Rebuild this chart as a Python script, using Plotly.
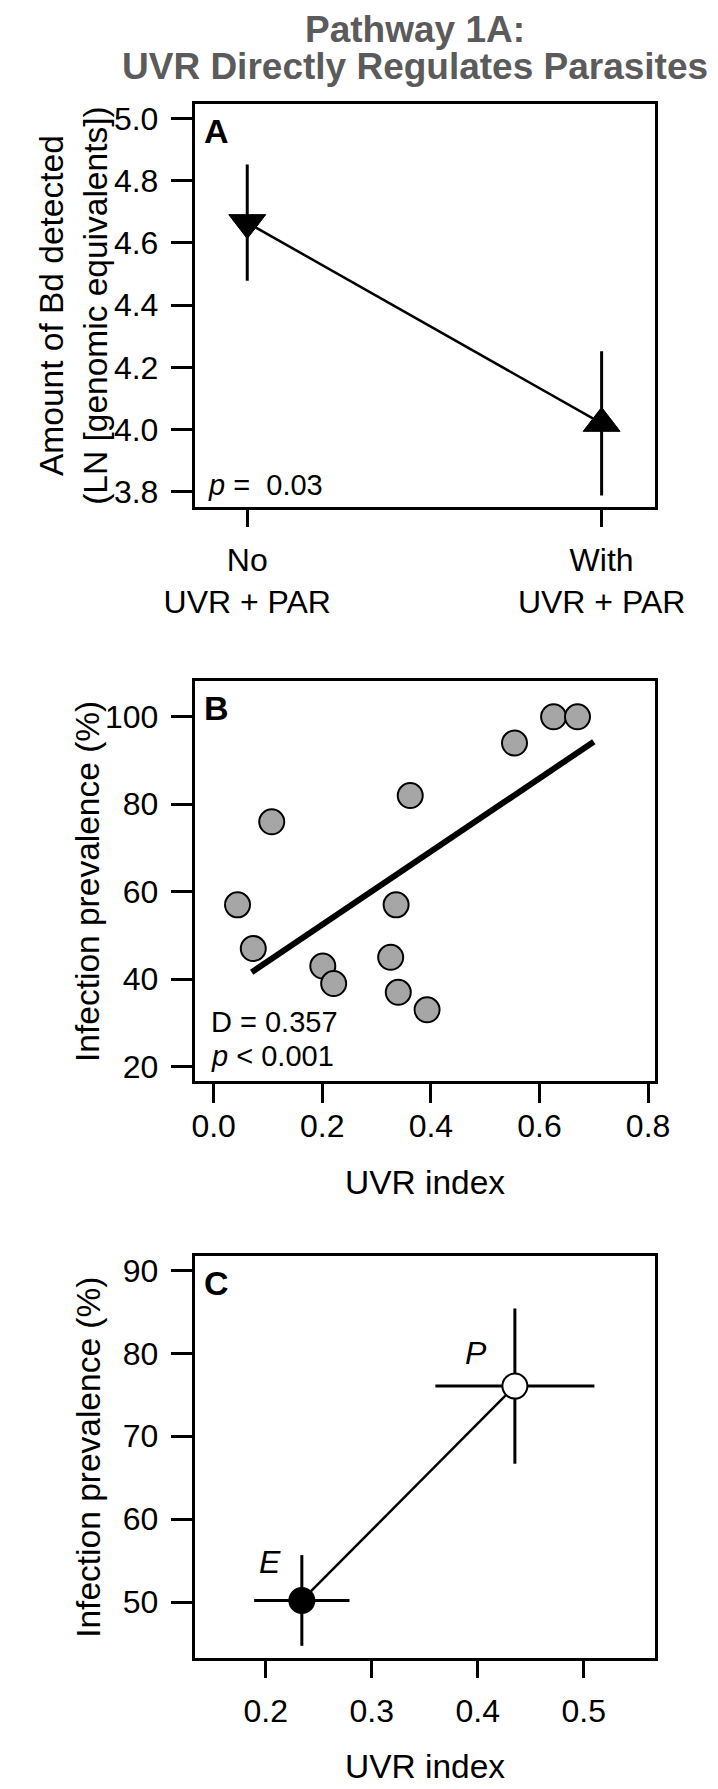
import plotly.graph_objects as go

# ---------------- data ----------------
# Panel A
treatments = ["No<br>UVR + PAR", "With<br>UVR + PAR"]
treatment_pos = [1, 2]
bd_mean = [4.665, 4.02]
bd_err = [0.187, 0.232]
bd_symbols = ["triangle-down", "triangle-up"]

# Panel B
uvr_index_b = [0.044, 0.073, 0.107, 0.201, 0.221, 0.326, 0.336, 0.340, 0.362, 0.393, 0.554, 0.626, 0.670]
prevalence_b = [57, 47, 76, 43, 39, 45, 57, 37, 82, 33, 94, 100, 100]
fit_x = [0.07, 0.70]
fit_y = [41.6, 94.3]

# Panel C
groups_c = ["E", "P"]
uvr_mean_c = [0.234, 0.435]
uvr_err_c = [0.045, 0.075]
prev_mean_c = [50.2, 76.05]
prev_err_c = [5.47, 9.36]
fill_c = ["black", "white"]

# ---------------- style ----------------
FONT = "Liberation Sans, Arial, Helvetica, sans-serif"
TICK = 32
TITLE = 33.5
STAT = 29
W, H = 718, 1789

fig = go.Figure()

# Panel A
fig.add_trace(go.Scatter(x=treatment_pos, y=bd_mean, mode="lines",
                         line=dict(color="black", width=2.5),
                         xaxis="x", yaxis="y", hoverinfo="skip"))
fig.add_trace(go.Scatter(x=treatment_pos, y=bd_mean, mode="markers",
                         marker=dict(symbol=bd_symbols, size=32, color="black",
                                     line=dict(color="black", width=1)),
                         error_y=dict(type="data", array=bd_err, width=0,
                                      thickness=3, color="black"),
                         xaxis="x", yaxis="y"))

# Panel B
fig.add_trace(go.Scatter(x=fit_x, y=fit_y, mode="lines",
                         line=dict(color="black", width=6),
                         xaxis="x2", yaxis="y2", hoverinfo="skip"))
fig.add_trace(go.Scatter(x=uvr_index_b, y=prevalence_b, mode="markers",
                         marker=dict(symbol="circle", size=25, color="#a6a6a6",
                                     line=dict(color="black", width=2)),
                         xaxis="x2", yaxis="y2"))

# Panel C
fig.add_trace(go.Scatter(x=uvr_mean_c, y=prev_mean_c, mode="lines",
                         line=dict(color="black", width=2.5),
                         xaxis="x3", yaxis="y3", hoverinfo="skip"))
fig.add_trace(go.Scatter(x=uvr_mean_c, y=prev_mean_c, mode="markers",
                         marker=dict(symbol="circle", size=25, color=fill_c,
                                     line=dict(color="black", width=2)),
                         error_x=dict(type="data", array=uvr_err_c, width=0,
                                      thickness=3, color="black"),
                         error_y=dict(type="data", array=prev_err_c, width=0,
                                      thickness=3, color="black"),
                         xaxis="x3", yaxis="y3"))

xdom = [179 / W, 681.7 / W]
def ydom(top, bottom):
    return [1 - bottom / H, 1 - top / H]

common = dict(showline=True, linecolor="black", linewidth=3, mirror=True,
              ticks="outside", tickwidth=3, tickcolor="black",
              showgrid=False, zeroline=False,
              tickfont=dict(family=FONT, size=TICK, color="black"))

fig.update_layout(
    width=W, height=H,
    margin=dict(l=0, r=0, t=0, b=0),
    paper_bgcolor="white", plot_bgcolor="white",
    showlegend=False,
    font=dict(family=FONT, color="black"),
    xaxis=dict(domain=xdom, range=[0.852, 2.150], tickvals=treatment_pos,
               ticktext=treatments, ticklen=17, ticklabelstandoff=6,
               anchor="y", **common),
    yaxis=dict(domain=ydom(101.5, 505.7), range=[3.752, 5.046], dtick=0.2,
               tick0=3.8, tickformat=".1f", ticklen=21, ticklabelstandoff=6,
               anchor="x", **common),
    xaxis2=dict(domain=xdom, range=[-0.0347, 0.8123], dtick=0.2, tick0=0,
                tickformat=".1f", ticklen=19, ticklabelstandoff=-4,
                anchor="y2", **common),
    yaxis2=dict(domain=ydom(680.4, 1082), range=[16.77, 108.25], dtick=20,
                tick0=20, ticklen=21, ticklabelstandoff=6, anchor="x2", **common),
    xaxis3=dict(domain=xdom, range=[0.133, 0.567], dtick=0.1, tick0=0.2,
                tickformat=".1f", ticklen=17, ticklabelstandoff=6,
                anchor="y3", **common),
    yaxis3=dict(domain=ydom(1257.9, 1661.6), range=[43.25, 91.74], dtick=10,
                tick0=50, ticklen=21, ticklabelstandoff=6, anchor="x3", **common),
)

ann = []
# Main title
ann.append(dict(text="<b>Pathway 1A:</b>", x=420 / W, y=1 - 27 / H, xref="paper", yref="paper",
                xanchor="center", yanchor="middle", showarrow=False,
                font=dict(family=FONT, size=37, color="#5b5b5b")))
ann.append(dict(text="<b>UVR Directly Regulates Parasites</b>", x=420 / W, y=1 - 64 / H,
                xref="paper", yref="paper", xanchor="center", yanchor="middle",
                showarrow=False, font=dict(family=FONT, size=37, color="#5b5b5b")))

# Panel letters
for ref, letter in [("", "A"), ("2", "B"), ("3", "C")]:
    ann.append(dict(text="<b>%s</b>" % letter, x=0.015, y=0.985,
                    xref="x%s domain" % ref, yref="y%s domain" % ref,
                    xanchor="left", yanchor="top", showarrow=False,
                    font=dict(family=FONT, size=34, color="black")))

# Stats text
ann.append(dict(text="<i>p</i> =\u00a0 0.03", x=0.025, y=0.053, xref="x domain", yref="y domain",
                xanchor="left", yanchor="middle", showarrow=False,
                font=dict(family=FONT, size=STAT, color="black")))
ann.append(dict(text="D = 0.357", x=0.03, y=0.147, xref="x2 domain", yref="y2 domain",
                xanchor="left", yanchor="middle", showarrow=False,
                font=dict(family=FONT, size=STAT, color="black")))
ann.append(dict(text="<i>p</i> < 0.001", x=0.03, y=0.062, xref="x2 domain", yref="y2 domain",
                xanchor="left", yanchor="middle", showarrow=False,
                font=dict(family=FONT, size=STAT, color="black")))

# E / P labels in panel C
shifts = {"E": (-32, 38), "P": (-39, 33)}
for g, xv, yv in zip(groups_c, uvr_mean_c, prev_mean_c):
    ann.append(dict(text="<i>%s</i>" % g, x=xv, y=yv, xref="x3", yref="y3",
                    xshift=shifts[g][0], yshift=shifts[g][1], showarrow=False,
                    xanchor="center", yanchor="middle",
                    font=dict(family=FONT, size=TICK, color="black")))

# Axis titles
ann.append(dict(text="Amount of Bd detected<br>(LN [genomic equivalents])",
                x=47 / W, y=1 - 304 / H, xref="paper", yref="paper",
                textangle=-90, xanchor="center", yanchor="middle", showarrow=False,
                font=dict(family=FONT, size=TITLE, color="black")))
ann.append(dict(text="Infection prevalence (%)", x=62 / W, y=1 - 881.7 / H,
                xref="paper", yref="paper", textangle=-90, xanchor="center",
                yanchor="middle", showarrow=False,
                font=dict(family=FONT, size=TITLE, color="black")))
ann.append(dict(text="Infection prevalence (%)", x=62 / W, y=1 - 1459.8 / H,
                xref="paper", yref="paper", textangle=-90, xanchor="center",
                yanchor="middle", showarrow=False,
                font=dict(family=FONT, size=TITLE, color="black")))
ann.append(dict(text="UVR index", x=0.5, y=1 - 1184 / H, xref="x2 domain", yref="paper",
                xanchor="center", yanchor="middle", showarrow=False,
                font=dict(family=FONT, size=TITLE, color="black")))
ann.append(dict(text="UVR index", x=0.5, y=1 - 1770 / H, xref="x3 domain", yref="paper",
                xanchor="center", yanchor="middle", showarrow=False,
                font=dict(family=FONT, size=TITLE, color="black")))

fig.update_layout(annotations=ann)
fig.write_html("out.html")
